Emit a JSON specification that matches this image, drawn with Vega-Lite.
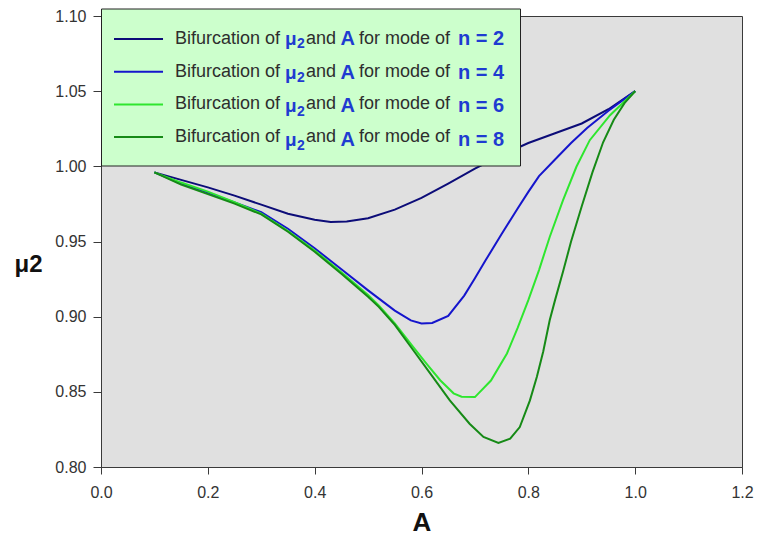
{
  "$schema": "https://vega.github.io/schema/vega-lite/v6.json",
  "width": 641,
  "height": 451,
  "autosize": {"type": "none"},
  "padding": {"left": 101, "top": 16, "right": 15, "bottom": 73},
  "background": "white",
  "config": {
    "font": "Liberation Sans",
    "view": {"fill": "#e0e0e0", "stroke": "#3a3a3a", "strokeWidth": 1},
    "axis": {"grid": false, "domainColor": "#3a3a3a", "tickColor": "#3a3a3a", "labelColor": "#333333", "labelFontSize": 16, "titleColor": "#111111", "titleFontWeight": "bold"},
    "legend": {"orient": "none", "legendX": 0, "legendY": -7.5, "title": null, "padding": 13, "symbolType": "M-1.06,0H1.91", "symbolSize": 1089, "symbolStrokeWidth": 2, "labelOffset": 26, "rowPadding": 5.7, "labelFontSize": 18, "labelColor": "#2e2e2e", "labelLimit": 0}
  },
  "data": {"values": [
    {"n": 2, "A": 0.10, "mu": 0.996}, {"n": 2, "A": 0.15, "mu": 0.991}, {"n": 2, "A": 0.20, "mu": 0.986}, {"n": 2, "A": 0.25, "mu": 0.9805}, {"n": 2, "A": 0.30, "mu": 0.9745}, {"n": 2, "A": 0.35, "mu": 0.9685}, {"n": 2, "A": 0.40, "mu": 0.9645}, {"n": 2, "A": 0.43, "mu": 0.963}, {"n": 2, "A": 0.46, "mu": 0.9633}, {"n": 2, "A": 0.50, "mu": 0.9655}, {"n": 2, "A": 0.55, "mu": 0.9712}, {"n": 2, "A": 0.60, "mu": 0.979}, {"n": 2, "A": 0.65, "mu": 0.9885}, {"n": 2, "A": 0.70, "mu": 0.9985}, {"n": 2, "A": 0.75, "mu": 1.0075}, {"n": 2, "A": 0.80, "mu": 1.0155}, {"n": 2, "A": 0.85, "mu": 1.022}, {"n": 2, "A": 0.90, "mu": 1.0285}, {"n": 2, "A": 0.95, "mu": 1.038}, {"n": 2, "A": 1.00, "mu": 1.05},
    {"n": 4, "A": 0.10, "mu": 0.996}, {"n": 4, "A": 0.15, "mu": 0.9885}, {"n": 4, "A": 0.20, "mu": 0.9825}, {"n": 4, "A": 0.25, "mu": 0.976}, {"n": 4, "A": 0.30, "mu": 0.9695}, {"n": 4, "A": 0.35, "mu": 0.9585}, {"n": 4, "A": 0.40, "mu": 0.9455}, {"n": 4, "A": 0.45, "mu": 0.9315}, {"n": 4, "A": 0.50, "mu": 0.9175}, {"n": 4, "A": 0.55, "mu": 0.904}, {"n": 4, "A": 0.58, "mu": 0.8975}, {"n": 4, "A": 0.60, "mu": 0.8955}, {"n": 4, "A": 0.62, "mu": 0.8958}, {"n": 4, "A": 0.65, "mu": 0.9005}, {"n": 4, "A": 0.68, "mu": 0.914}, {"n": 4, "A": 0.70, "mu": 0.9255}, {"n": 4, "A": 0.72, "mu": 0.9375}, {"n": 4, "A": 0.75, "mu": 0.955}, {"n": 4, "A": 0.78, "mu": 0.972}, {"n": 4, "A": 0.80, "mu": 0.983}, {"n": 4, "A": 0.82, "mu": 0.9935}, {"n": 4, "A": 0.85, "mu": 1.0045}, {"n": 4, "A": 0.88, "mu": 1.0155}, {"n": 4, "A": 0.91, "mu": 1.0255}, {"n": 4, "A": 0.95, "mu": 1.037}, {"n": 4, "A": 1.00, "mu": 1.05},
    {"n": 6, "A": 0.10, "mu": 0.996}, {"n": 6, "A": 0.15, "mu": 0.9892}, {"n": 6, "A": 0.20, "mu": 0.9832}, {"n": 6, "A": 0.25, "mu": 0.9762}, {"n": 6, "A": 0.30, "mu": 0.9685}, {"n": 6, "A": 0.35, "mu": 0.957}, {"n": 6, "A": 0.40, "mu": 0.944}, {"n": 6, "A": 0.45, "mu": 0.9295}, {"n": 6, "A": 0.50, "mu": 0.9145}, {"n": 6, "A": 0.52, "mu": 0.9075}, {"n": 6, "A": 0.55, "mu": 0.8955}, {"n": 6, "A": 0.585, "mu": 0.8795}, {"n": 6, "A": 0.61, "mu": 0.8685}, {"n": 6, "A": 0.635, "mu": 0.8577}, {"n": 6, "A": 0.66, "mu": 0.849}, {"n": 6, "A": 0.675, "mu": 0.8468}, {"n": 6, "A": 0.70, "mu": 0.8465}, {"n": 6, "A": 0.73, "mu": 0.8575}, {"n": 6, "A": 0.76, "mu": 0.8755}, {"n": 6, "A": 0.78, "mu": 0.8925}, {"n": 6, "A": 0.80, "mu": 0.911}, {"n": 6, "A": 0.82, "mu": 0.931}, {"n": 6, "A": 0.84, "mu": 0.953}, {"n": 6, "A": 0.865, "mu": 0.9775}, {"n": 6, "A": 0.89, "mu": 0.9997}, {"n": 6, "A": 0.915, "mu": 1.0174}, {"n": 6, "A": 0.953, "mu": 1.034}, {"n": 6, "A": 1.00, "mu": 1.05},
    {"n": 8, "A": 0.10, "mu": 0.996}, {"n": 8, "A": 0.15, "mu": 0.9878}, {"n": 8, "A": 0.20, "mu": 0.9815}, {"n": 8, "A": 0.25, "mu": 0.9752}, {"n": 8, "A": 0.30, "mu": 0.968}, {"n": 8, "A": 0.35, "mu": 0.9565}, {"n": 8, "A": 0.40, "mu": 0.9432}, {"n": 8, "A": 0.45, "mu": 0.9285}, {"n": 8, "A": 0.50, "mu": 0.9132}, {"n": 8, "A": 0.52, "mu": 0.9065}, {"n": 8, "A": 0.55, "mu": 0.8945}, {"n": 8, "A": 0.585, "mu": 0.8775}, {"n": 8, "A": 0.62, "mu": 0.8605}, {"n": 8, "A": 0.653, "mu": 0.8443}, {"n": 8, "A": 0.69, "mu": 0.8288}, {"n": 8, "A": 0.716, "mu": 0.82}, {"n": 8, "A": 0.744, "mu": 0.816}, {"n": 8, "A": 0.766, "mu": 0.8188}, {"n": 8, "A": 0.784, "mu": 0.8266}, {"n": 8, "A": 0.803, "mu": 0.8443}, {"n": 8, "A": 0.816, "mu": 0.86}, {"n": 8, "A": 0.828, "mu": 0.877}, {"n": 8, "A": 0.84, "mu": 0.8976}, {"n": 8, "A": 0.85, "mu": 0.911}, {"n": 8, "A": 0.865, "mu": 0.93}, {"n": 8, "A": 0.88, "mu": 0.95}, {"n": 8, "A": 0.90, "mu": 0.9735}, {"n": 8, "A": 0.92, "mu": 0.996}, {"n": 8, "A": 0.94, "mu": 1.016}, {"n": 8, "A": 0.96, "mu": 1.031}, {"n": 8, "A": 0.98, "mu": 1.042}, {"n": 8, "A": 1.00, "mu": 1.05}
  ]},
  "encoding": {
    "x": {"field": "A", "type": "quantitative", "scale": {"domain": [0, 1.2], "nice": false, "zero": false},
      "axis": {"values": [0, 0.2, 0.4, 0.6, 0.8, 1.0, 1.2], "format": ".1f", "tickSize": 7, "labelPadding": 10, "title": "A", "titleFontSize": 26, "titleY": 55, "titleBaseline": "middle", "labelFlush": false}},
    "y": {"field": "mu", "type": "quantitative", "scale": {"domain": [0.8, 1.1], "nice": false, "zero": false},
      "axis": {"values": [0.8, 0.85, 0.9, 0.95, 1.0, 1.05, 1.1], "format": ".2f", "tickSize": 8, "labelPadding": 7, "title": "μ2", "titleFontSize": 24, "titleAngle": 0, "titleX": -73, "titleY": 248, "titleAlign": "center", "titleBaseline": "middle", "labelFlush": false}}
  },
  "layer": [
    {"mark": {"type": "line", "strokeWidth": 2},
     "encoding": {"color": {"field": "n", "type": "nominal", "scale": {"domain": [2, 4, 6, 8], "range": ["#0c0c78", "#1515cc", "#2ee62e", "#168a16"]},
       "legend": {"fillColor": "#ccffcc", "strokeColor": "#222222", "symbolOpacity": 0, "symbolType": "M-1.06,0H22.7", "labelExpr": "''", "title": ".", "titleOrient": "bottom", "titleFontSize": 4, "titlePadding": 2, "titleColor": "#ccffcc"}}}},
    {"mark": {"type": "line", "opacity": 0},
     "encoding": {"color": {"field": "n", "type": "nominal", "scale": {"domain": [2, 4, 6, 8], "range": ["#0c0c78", "#1515cc", "#2ee62e", "#168a16"]},
       "legend": {"symbolOpacity": 1, "labelExpr": "'Bifurcation of'"}}}},
    {"mark": {"type": "line", "opacity": 0},
     "encoding": {"color": {"field": "n", "type": "nominal", "scale": {"domain": [2, 4, 6, 8], "range": ["#0c0c78", "#1515cc", "#2ee62e", "#168a16"]},
       "legend": {"legendX": 110, "symbolOpacity": 0, "labelFontSize": 19, "labelFontWeight": "bold", "labelColor": "#1f3bd1", "labelExpr": "'μ'"}}}},
    {"mark": {"type": "line", "opacity": 0},
     "encoding": {"color": {"field": "n", "type": "nominal", "scale": {"domain": [2, 4, 6, 8], "range": ["#0c0c78", "#1515cc", "#2ee62e", "#168a16"]},
       "legend": {"legendX": 122, "legendY": -2.5, "rowPadding": 9.0, "symbolOpacity": 0, "labelFontSize": 14, "labelFontWeight": "bold", "labelColor": "#1f3bd1", "labelExpr": "'2'"}}}},
    {"mark": {"type": "line", "opacity": 0},
     "encoding": {"color": {"field": "n", "type": "nominal", "scale": {"domain": [2, 4, 6, 8], "range": ["#0c0c78", "#1515cc", "#2ee62e", "#168a16"]},
       "legend": {"legendX": 131, "symbolOpacity": 0, "labelExpr": "'and'"}}}},
    {"mark": {"type": "line", "opacity": 0},
     "encoding": {"color": {"field": "n", "type": "nominal", "scale": {"domain": [2, 4, 6, 8], "range": ["#0c0c78", "#1515cc", "#2ee62e", "#168a16"]},
       "legend": {"legendX": 165.5, "symbolOpacity": 0, "labelFontSize": 20, "labelFontWeight": "bold", "labelColor": "#1f3bd1", "labelExpr": "'A'"}}}},
    {"mark": {"type": "line", "opacity": 0},
     "encoding": {"color": {"field": "n", "type": "nominal", "scale": {"domain": [2, 4, 6, 8], "range": ["#0c0c78", "#1515cc", "#2ee62e", "#168a16"]},
       "legend": {"legendX": 184, "symbolOpacity": 0, "labelExpr": "'for mode of'"}}}},
    {"mark": {"type": "line", "opacity": 0},
     "encoding": {"color": {"field": "n", "type": "nominal", "scale": {"domain": [2, 4, 6, 8], "range": ["#0c0c78", "#1515cc", "#2ee62e", "#168a16"]},
       "legend": {"legendX": 283, "symbolOpacity": 0, "labelFontSize": 20, "labelFontWeight": "bold", "labelColor": "#1f3bd1", "labelExpr": "'n = ' + datum.label"}}}}
  ],
  "resolve": {"scale": {"color": "independent"}, "legend": {"color": "independent"}}
}
